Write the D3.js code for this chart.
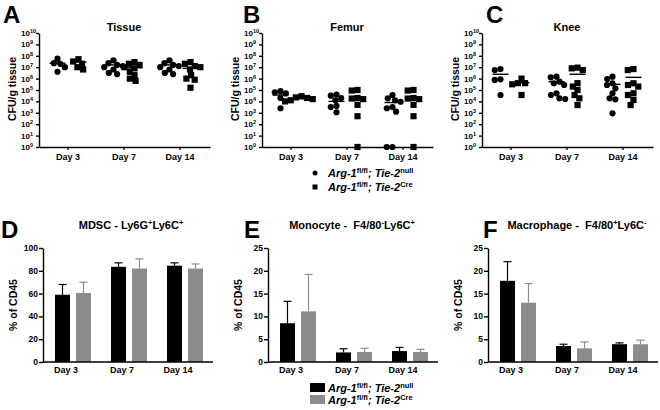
<!DOCTYPE html>
<html><head><meta charset="utf-8">
<script src="https://cdn.jsdelivr.net/npm/d3@7"></script>
<style>
body{margin:0;background:#fff}
text{font-family:Arial,"Liberation Sans",sans-serif;font-weight:bold;fill:#000}
</style>
</head><body><svg id="c" width="660" height="410"></svg>
<script>
// ---------- DATA ----------
const days = ["Day 3", "Day 7", "Day 14"];
const groupNames = ["null", "Cre"];
const logTicks = [0,1,2,3,4,5,6,7,8,9,10];

// log10(CFU/g tissue), per day
const tissueNull = [[7.75,7.35,7.3,7.0,6.6],[7.6,7.35,7.2,7.1,7.0,6.8,6.5,6.4],[7.6,7.35,7.2,7.1,7.0,6.8,6.5,6.4]];
const tissueCre  = [[7.7,7.5,7.3,7.0,6.8],[7.45,7.3,7.2,7.0,6.9,6.6,6.3,6.0,5.8],[7.45,7.3,7.1,7.0,6.8,6.3,6.0,5.9,5.2]];
const tissueNullMean = [7.35, 7.2, 7.2];
const tissueCreMean  = [7.45, 6.95, 6.9];

const femurNull = [[4.9,4.8,4.7,4.3,3.4],[4.6,4.5,4.3,4.1,3.6,3.5,3.05],[4.56,4.27,4.1,3.97,3.5,3.4,3.1,0,0]];
const femurCre  = [[4.45,4.35,4.3,4.2,4.1,4.0],[5.0,4.95,4.3,4.25,4.2,3.7,2.7,0],[5.0,4.95,4.3,4.25,4.2,3.7,2.7,0]];
const femurNullMean = [4.56, 4.0, 3.9];
const femurCreMean  = [4.25, 4.4, 4.4];

const kneeNull = [[6.84,6.75,5.94,5.88,4.56],[6.17,6.11,5.73,5.59,5.44,4.71,4.56,4.27,4.21],[6.17,5.96,5.59,5.44,5.15,4.71,4.27,4.18,2.95]];
const kneeCre  = [[6.0,5.6,5.6,5.5,4.56],[6.96,6.9,6.75,5.6,5.3,5.0,4.56,4.27,3.68],[6.84,6.75,5.59,5.44,5.3,4.71,4.56,4.12,3.68]];
const kneeNullMean = [6.38, 5.73, 5.5];
const kneeCreMean  = [5.64, 6.38, 6.11];

// % of CD45 (mean, SD)
const mdscNull = [59, 83.5, 84.5],  mdscNullSD = [9, 3.5, 2.5];
const mdscCre  = [60.5, 82, 82],    mdscCreSD  = [9.5, 8.5, 4];
const monoNull = [8.5, 2.1, 2.4],   monoNullSD = [4.8, 0.8, 0.8];
const monoCre  = [11.1, 2.2, 2.2],  monoCreSD  = [8.1, 0.8, 0.6];
const macNull  = [17.8, 3.5, 3.9],  macNullSD  = [4.2, 0.4, 0.3];
const macCre   = [13.0, 3.0, 3.9],  macCreSD   = [4.2, 1.4, 0.9];
const ticksD = [0,20,40,60,80,100];
const ticksEF = [0,5,10,15,20,25];

// ---------- DRAW ----------
const svg = d3.select("#c");
const GRAY = "#8c8c8c";

function rich(sel, parts, size) {
  // parts: [text, sup?, italic?]
  parts.forEach((p, i) => {
    const prevSup = i > 0 && parts[i-1][1];
    const ts = sel.append("tspan").text(p[0]);
    if (p[1]) ts.attr("font-size", size*0.68).attr("dy", prevSup ? 0 : -size*0.38);
    else ts.attr("font-size", size).attr("dy", prevSup ? size*0.38 : 0);
    if (p[2]) ts.attr("font-style", "italic");
  });
}

function letter(ch, x, y) {
  svg.append("text").attr("x", x).attr("y", y).attr("font-size", 24).text(ch);
}

function beeswarm(vals, yScale, d) {
  const pts = vals.map(v => ({v, y: yScale(Math.pow(10, v))}));
  const order = pts.slice().sort((a,b) => a.y - b.y);
  const placed = [];
  order.forEach(p => {
    const ints = [];
    placed.forEach(q => {
      const dy = Math.abs(q.y - p.y);
      if (dy < d) { const w = Math.sqrt(d*d - dy*dy); ints.push([q.dx - w, q.dx + w]); }
    });
    const cands = [0];
    ints.forEach(iv => { cands.push(iv[0], iv[1]); });
    cands.sort((a,b) => Math.abs(a) - Math.abs(b) || a - b);
    p.dx = cands.find(c => ints.every(iv => c <= iv[0] + 1e-6 || c >= iv[1] - 1e-6));
    placed.push(p);
  });
  return pts;
}

function scatterPanel(cfg) {
  const L = cfg.L, top = 33, bot = 147, R = L + 171;
  const y = d3.scaleLog().domain([1, 1e10]).range([bot, top]);
  const x = d3.scalePoint().domain(days).range([L + 29, L + 141]);
  const g = svg.append("g");
  // axes
  g.append("g").attr("transform", `translate(${L},0)`)
    .call(d3.axisLeft(y).tickValues(logTicks.map(e => Math.pow(10, e))).tickFormat("").tickSize(3).tickSizeOuter(0))
    .call(s => s.selectAll("path,line").attr("stroke", "#000").attr("stroke-width", 1.4));
  g.append("g").attr("transform", `translate(0,${bot})`)
    .call(d3.axisBottom(d3.scaleLinear().domain([L, R]).range([L, R])).tickValues([]).tickSizeOuter(0))
    .call(s => s.selectAll("path").attr("stroke", "#000").attr("stroke-width", 1.4));
  days.forEach(dy => {
    g.append("line").attr("x1", x(dy)).attr("x2", x(dy)).attr("y1", bot).attr("y2", bot + 3).attr("stroke", "#000").attr("stroke-width", 1.2);
    g.append("text").attr("x", x(dy)).attr("y", bot + 13).attr("text-anchor", "middle").attr("font-size", 9).text(dy);
  });
  logTicks.forEach(e => {
    const t = g.append("text").attr("x", L - 18).attr("y", y(Math.pow(10, e)) + 3);
    rich(t, [["10"], [String(e), true]], 8);
  });
  g.append("text").attr("transform", `translate(${L - 23},${(top + bot) / 2 - 1}) rotate(-90)`)
    .attr("text-anchor", "middle").attr("font-size", 10.5).attr("font-weight", "normal").text("CFU/g tissue");
  g.append("text").attr("x", L + 85).attr("y", 31).attr("text-anchor", "middle").attr("font-size", 11).text(cfg.title);
  // points
  [[cfg.a, cfg.am, -10.5, "circle"], [cfg.b, cfg.bm, 10.5, "square"]].forEach(([data, means, off, shape]) => {
    days.forEach((dy, i) => {
      const cx = x(dy) + off;
      const pts = beeswarm(data[i], y, 5.8);
      pts.forEach(p => {
        if (shape === "circle") g.append("circle").attr("cx", cx + p.dx).attr("cy", p.y).attr("r", 3.1).attr("fill", "#000");
        else g.append("rect").attr("x", cx + p.dx - 3.1).attr("y", p.y - 3.1).attr("width", 6.2).attr("height", 6.2).attr("fill", "#000");
      });
      const my = y(Math.pow(10, means[i]));
      g.append("line").attr("x1", cx - 8).attr("x2", cx + 8).attr("y1", my).attr("y2", my).attr("stroke", "#000").attr("stroke-width", 1.4);
    });
  });
}

function barPanel(cfg) {
  const L = cfg.L, top = 248, bot = 362, R = L + 170;
  const y = d3.scaleLinear().domain([0, cfg.max]).range([bot, top]);
  const x = d3.scaleBand().domain(days).range([L + 2, R]);
  const xi = d3.scaleBand().domain(groupNames).range([-18, 18]).paddingInner(2 - 36 / 21);
  const g = svg.append("g");
  // bars
  [[cfg.a, cfg.asd, "#000", "null"], [cfg.b, cfg.bsd, GRAY, "Cre"]].forEach(([vals, sds, col, gn]) => {
    days.forEach((dy, i) => {
      const cx = x(dy) + x.bandwidth() / 2;
      const bx = cx + xi(gn);
      g.append("rect").attr("x", bx).attr("y", y(vals[i])).attr("width", xi.bandwidth()).attr("height", bot - y(vals[i])).attr("fill", col);
      const mx = bx + xi.bandwidth() / 2;
      g.append("line").attr("x1", mx).attr("x2", mx).attr("y1", y(vals[i])).attr("y2", y(vals[i] + sds[i])).attr("stroke", col).attr("stroke-width", 1.2);
      g.append("line").attr("x1", mx - 4).attr("x2", mx + 4).attr("y1", y(vals[i] + sds[i])).attr("y2", y(vals[i] + sds[i])).attr("stroke", col).attr("stroke-width", 1.2);
    });
  });
  g.append("g").attr("transform", `translate(${L},0)`)
    .call(d3.axisLeft(y).tickValues(cfg.ticks).tickFormat("").tickSize(4).tickSizeOuter(0))
    .call(s => s.selectAll("path,line").attr("stroke", "#000").attr("stroke-width", 1.4));
  g.append("line").attr("x1", L).attr("x2", R).attr("y1", bot).attr("y2", bot).attr("stroke", "#000").attr("stroke-width", 1.4);
  cfg.ticks.forEach(t => {
    g.append("text").attr("x", L - 5).attr("y", y(t) + 3).attr("text-anchor", "end").attr("font-size", 8.5).text(t);
  });
  days.forEach(dy => {
    g.append("text").attr("x", x(dy) + x.bandwidth() / 2 - 7).attr("y", bot + 11).attr("text-anchor", "middle").attr("font-size", 9).text(dy);
  });
  g.append("text").attr("transform", `translate(${L - 26},${(top + bot) / 2}) rotate(-90)`)
    .attr("text-anchor", "middle").attr("font-size", 10.5).attr("font-weight", "normal").text("% of CD45");
  const t = g.append("text").attr("x", cfg.tx).attr("y", 229).attr("text-anchor", "middle");
  rich(t, cfg.title, 11);
}

letter("A", 3, 23); letter("B", 243, 23); letter("C", 486, 23);
letter("D", 1, 238); letter("E", 244, 238); letter("F", 483, 238);

scatterPanel({L: 39, title: "Tissue", a: tissueNull, am: tissueNullMean, b: tissueCre, bm: tissueCreMean});
scatterPanel({L: 262, title: "Femur", a: femurNull, am: femurNullMean, b: femurCre, bm: femurCreMean});
scatterPanel({L: 482, title: "Knee", a: kneeNull, am: kneeNullMean, b: kneeCre, bm: kneeCreMean});

barPanel({L: 43, max: 100, ticks: ticksD, a: mdscNull, asd: mdscNullSD, b: mdscCre, bsd: mdscCreSD, tx: 131,
  title: [["MDSC - Ly6G"], ["+", true], ["Ly6C"], ["+", true]]});
barPanel({L: 268, max: 25, ticks: ticksEF, a: monoNull, asd: monoNullSD, b: monoCre, bsd: monoCreSD, tx: 352,
  title: [["Monocyte - \u00a0F4/80"], ["-", true], ["Ly6C"], ["+", true]]});
barPanel({L: 488, max: 25, ticks: ticksEF, a: macNull, asd: macNullSD, b: macCre, bsd: macCreSD, tx: 577,
  title: [["Macrophage - \u00a0F4/80"], ["+", true], ["Ly6C"], ["-", true]]});

// legends
function legendText(x, yb, cre) {
  const t = svg.append("text").attr("x", x).attr("y", yb);
  rich(t, [["Arg-1", false, true], ["fl/fl", true], ["; Tie-2", false, true], [cre ? "Cre" : "null", true]], 11);
}
svg.append("circle").attr("cx", 315).attr("cy", 173).attr("r", 2.5).attr("fill", "#000");
legendText(328, 177, false);
svg.append("rect").attr("x", 312.5).attr("y", 184.5).attr("width", 5).attr("height", 5).attr("fill", "#000");
legendText(328, 191, true);

svg.append("rect").attr("x", 310).attr("y", 383).attr("width", 15).attr("height", 9).attr("fill", "#000");
legendText(328, 392, false);
svg.append("rect").attr("x", 310).attr("y", 395).attr("width", 15).attr("height", 9).attr("fill", GRAY);
legendText(328, 404, true);
</script>
</body></html>
